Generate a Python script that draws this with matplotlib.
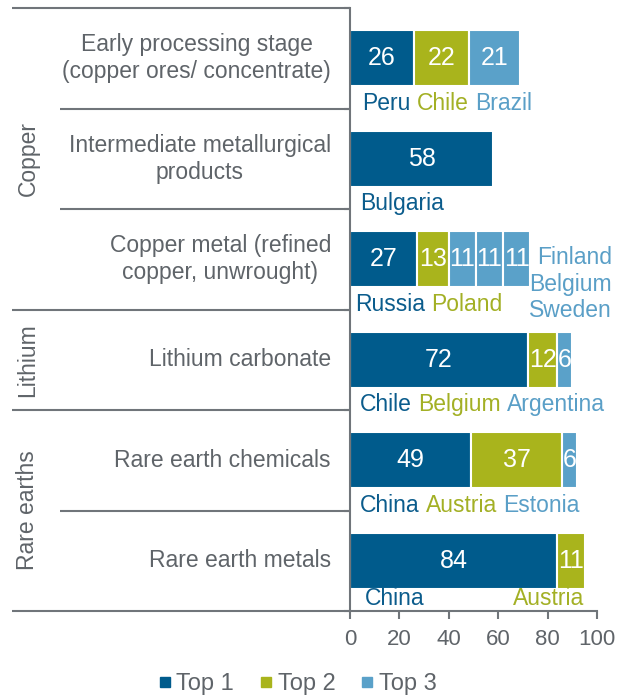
import matplotlib.pyplot as plt
from matplotlib.lines import Line2D

plt.rcParams['font.family'] = ['Liberation Sans', 'DejaVu Sans']

groups = ['Copper', 'Lithium', 'Rare earths']
group_rows = [3, 1, 2]
categories = ['Early processing stage\n(copper ores/ concentrate)',
              'Intermediate metallurgical\nproducts',
              'Copper metal (refined\ncopper, unwrought)',
              'Lithium carbonate',
              'Rare earth chemicals',
              'Rare earth metals']
shares = [[26, 22, 21], [58], [27, 13, 11, 11, 11], [72, 12, 6], [49, 37, 6], [84, 11]]
ranks = [[1, 2, 3], [1], [1, 2, 3, 3, 3], [1, 2, 3], [1, 2, 3], [1, 2]]
countries = [['Peru', 'Chile', 'Brazil'], ['Bulgaria'],
             ['Russia', 'Poland', 'Finland', 'Belgium', 'Sweden'],
             ['Chile', 'Belgium', 'Argentina'], ['China', 'Austria', 'Estonia'],
             ['China', 'Austria']]
legend_labels = ['Top 1', 'Top 2', 'Top 3']

colors = {1: '#005b8c', 2: '#a9b41c', 3: '#5aa1c9'}
text_colors = {1: '#0b5c8c', 2: '#a3b025', 3: '#5a9fc7'}
gray = '#5f6469'
line_gray = '#70757a'
fs = 16.5

W, H = 622, 697
fig = plt.figure(figsize=(W / 100, H / 100), dpi=100)
top_px, bot_px = 8, 611
b = 1 - bot_px / H
h = (bot_px - top_px) / H
ax = fig.add_axes([350 / W, b, 247 / W, h])
lax = fig.add_axes([0, b, 350 / W, h])

n = len(categories)
# bars
for i, (vals, rk) in enumerate(zip(shares, ranks)):
    left = 0
    for v, r in zip(vals, rk):
        ax.barh(i + 0.5, v, left=left, height=0.56, color=colors[r],
                edgecolor='white', linewidth=1.5)
        ax.text(left + v / 2, i + 0.5, str(v), ha='center', va='center',
                color='white', fontsize=18)
        left += v

# country labels under the bars
label_x = [5, 4, 2, 4, 4, 6]
for i, (names, rk) in enumerate(zip(countries, ranks)):
    y = i + 0.95
    if i == 5:
        y = i + 0.88
        ax.text(label_x[i], y, names[0], color=text_colors[1], fontsize=fs,
                ha='left', va='center', clip_on=False)
        ax.text(sum(shares[i]), y, names[1], color=text_colors[2], fontsize=fs,
                ha='right', va='center', clip_on=False)
        continue
    stacked = [nm for nm, r in zip(names, rk) if r == 3] if rk.count(3) > 1 else []
    inline = [(nm, r) for nm, r in zip(names, rk) if nm not in stacked]
    prev = None
    for nm, r in inline:
        if prev is None:
            prev = ax.text(label_x[i], y, nm, color=text_colors[r], fontsize=fs,
                           ha='left', va='center', clip_on=False)
        else:
            prev = ax.annotate(nm, xy=(1, 0), xycoords=prev, xytext=(4.5, 0),
                               textcoords='offset points', color=text_colors[r],
                               fontsize=fs, ha='left', va='bottom',
                               annotation_clip=False)
    if stacked:
        ax.text(106, i + 0.75, '\n'.join(stacked), color=text_colors[3],
                fontsize=fs, ha='right', va='center', linespacing=1.2,
                clip_on=False)

ax.set_xlim(0, 100)
ax.set_ylim(n, 0)
ax.set_xticks(range(0, 101, 20))
ax.set_yticks(range(n + 1))
ax.set_yticklabels([])
ax.tick_params(axis='x', length=6, width=1.5, color=line_gray, pad=7,
               labelsize=16, labelcolor=gray)
ax.tick_params(axis='y', length=4, width=1.5, color=line_gray)
for s in ['top', 'right']:
    ax.spines[s].set_visible(False)
for s in ['left', 'bottom']:
    ax.spines[s].set_color(line_gray)
    ax.spines[s].set_linewidth(1.5)

# left label panel
lax.set_xlim(0, 350)
lax.set_ylim(n, 0)
lax.axis('off')
bounds = [0]
for g in group_rows:
    bounds.append(bounds[-1] + g)
sub_lines = [r for r in range(1, n) if r not in bounds]
lax.hlines(bounds, 12, 350, color=line_gray, linewidth=1.5, clip_on=False)
lax.hlines(sub_lines, 60, 350, color=line_gray, linewidth=1.5, clip_on=False)
for i, c in enumerate(categories):
    lax.text(331, i + 0.5, c, ha='right', va='center', multialignment='center',
             fontsize=fs, color=gray, linespacing=1.2)
for g, s, e in zip(groups, bounds[:-1], bounds[1:]):
    lax.text(28, (s + e) / 2, g, rotation=90, ha='center', va='center',
             fontsize=fs, color=gray)

handles = [Line2D([], [], marker='s', ls='', color=colors[k], markersize=6.5)
           for k in (1, 2, 3)]
fig.legend(handles, legend_labels, loc='center', bbox_to_anchor=(0.475, 1 - 684 / H),
           ncol=3, frameon=False, handletextpad=0.05, columnspacing=0.9,
           handlelength=0.9, fontsize=17, labelcolor=gray)

fig.savefig('out.png', dpi=100)
